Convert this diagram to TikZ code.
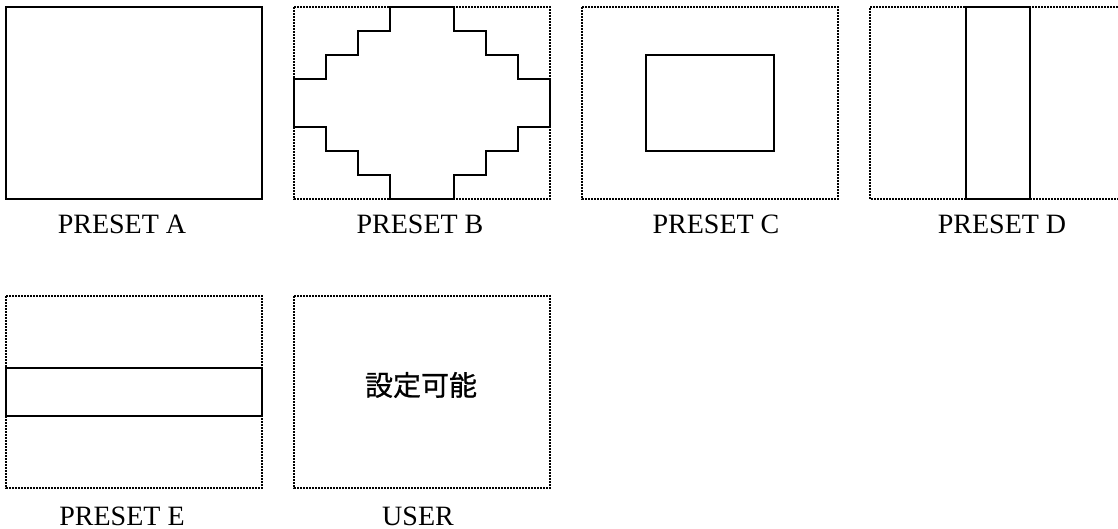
\documentclass[tikz,border=0pt]{standalone}
\usepackage{fontspec}
\setmainfont{Liberation Serif}
\newfontfamily\cjk[FakeBold=0.8]{Noto Sans CJK JP}
\begin{document}
\begin{tikzpicture}[x=1pt,y=-1pt,
  solidline/.style={line width=2.5pt,black},
  dotline/.style={line width=1.6pt,black,dash pattern=on 1.6pt off 1.4pt},
  lbl/.style={anchor=base,inner sep=0pt,font=\fontsize{28}{30}\selectfont}]
\useasboundingbox (0,0) rectangle (1118,529);
% PRESET A
\draw[solidline] (6,7) rectangle (262,199);
\node[lbl] (la) at (122,233.5) {PRESET A};
% PRESET B
\draw[dotline] (294,7) rectangle (550,199);
\draw[solidline,line join=miter] (390,7) -- (454,7) -- (454,31) -- (486,31) -- (486,55) -- (518,55) -- (518,79) -- (550,79)
  -- (550,127) -- (518,127) -- (518,151) -- (486,151) -- (486,175) -- (454,175) -- (454,199)
  -- (390,199) -- (390,175) -- (358,175) -- (358,151) -- (326,151) -- (326,127) -- (294,127)
  -- (294,79) -- (326,79) -- (326,55) -- (358,55) -- (358,31) -- (390,31) -- cycle;
\node[lbl] (lb) at (420,233.5) {PRESET B};
% PRESET C
\draw[dotline] (582,7) rectangle (838,199);
\draw[solidline] (646,55) rectangle (774,151);
\node[lbl] (lc) at (716,233.5) {PRESET C};
% PRESET D
\draw[dotline] (1118,7) -- (870,7) -- (870,199) -- (1118,199);
\draw[solidline] (966,7) rectangle (1030,199);
\node[lbl] (ld) at (1002,233.5) {PRESET D};
% PRESET E
\draw[dotline] (6,296) rectangle (262,488);
\draw[solidline] (6,368) rectangle (262,416);
\node[lbl] (le) at (122,525) {PRESET E};
% USER
\draw[dotline] (294,296) rectangle (550,488);
\node[inner sep=0pt,font=\cjk\fontsize{28}{30}\selectfont] (txt) at (421,385) {設定可能};
\node[lbl] (lu) at (418,525) {USER};
\end{tikzpicture}
\end{document}
